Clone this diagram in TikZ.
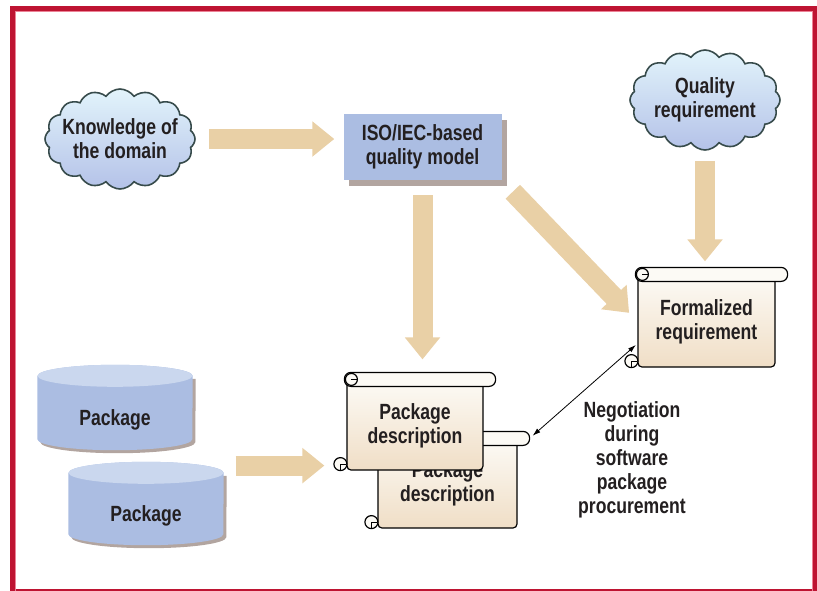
\documentclass[tikz,border=0pt]{standalone}
\usepackage{fontspec}
\setmainfont{Liberation Sans}[FakeStretch=0.8]
\usetikzlibrary{shapes.symbols, arrows.meta, calc, shadows}

\definecolor{framered}{RGB}{190,20,50}
\definecolor{framepink}{RGB}{236,130,150}
\definecolor{beige}{RGB}{233,208,166}
\definecolor{boxblue}{RGB}{171,189,226}
\definecolor{capblue}{RGB}{202,215,238}
\definecolor{shadowgrey}{RGB}{178,165,160}
\definecolor{cloudtop}{RGB}{226,244,251}
\definecolor{cloudbot}{RGB}{180,194,232}
\definecolor{cloudline}{RGB}{55,75,75}
\definecolor{papertop}{RGB}{252,250,245}
\definecolor{paperbot}{RGB}{240,222,198}
\definecolor{ink}{RGB}{35,31,32}

% roll and curls of a scroll node
\newcommand{\scrolldeco}[1]{%
  \draw[line width=1.2pt, fill=papertop, rounded corners=6.5pt] ($(#1.north west)+(-2,-8)$) rectangle ($(#1.north east)+(12,6)$);
  \draw[line width=1.2pt, fill=papertop] ($(#1.north west)+(5,-1)$) circle (6pt);
  \draw[line width=1.2pt] ($(#1.north west)+(5,-1)$) -- ++(6,0);
  \draw[line width=1.2pt, fill=papertop] ($(#1.south west)+(-6,-6.5)$) circle (6.5pt);
  \draw[line width=1.2pt] ($(#1.south west)+(-6,-6.5)$) -- ++(0,6.5);
  \draw[line width=1.2pt] ($(#1.south west)+(-6,-6.5)$) -- ++(6,0);
}
% body, shadow and lid of a package drum
\newcommand{\drum}[1]{%
  \fill[shadowgrey] ($(#1.north west)+(3,14)$) -- ($(#1.south west)+(3,-8)$) arc[start angle=180, end angle=360, x radius=77.5pt, y radius=11pt] -- ($(#1.north east)+(3,14)$) -- cycle;
  \fill[boxblue] ($(#1.north west)+(0,11)$) -- ($(#1.south west)+(0,-11)$) arc[start angle=180, end angle=360, x radius=77.5pt, y radius=11pt] -- ($(#1.north east)+(0,11)$) arc[start angle=0, end angle=180, x radius=77.5pt, y radius=11pt] -- cycle;
  \fill[capblue] ($(#1.north)+(0,11)$) ellipse [x radius=77.5pt, y radius=11pt];
}

\begin{document}
\begin{tikzpicture}[x=1pt, y=-1pt, font=\bfseries\fontsize{22}{24}\selectfont, text=ink,
  cloudy/.style={cloud, cloud puffs=16, cloud puff arc=110, aspect=1.5, draw=cloudline, line width=1.6pt, top color=cloudtop, bottom color=cloudbot, minimum width=150pt, minimum height=100pt, align=center, inner xsep=-12pt, inner ysep=-4pt},
  box/.style={fill=boxblue, minimum width=158pt, minimum height=66pt, align=center, drop shadow={shadow xshift=5pt, shadow yshift=-6pt, fill=shadowgrey, opacity=1}},
  drumbox/.style={minimum width=155pt, inner sep=0pt},
  paper/.style={draw, line width=1.2pt, top color=papertop, bottom color=paperbot, rounded corners=4pt, align=center, inner sep=0pt},
  fat/.style={line width=20pt, draw=beige, -{Triangle[width=34pt, length=22pt]}},
  thin/.style={line width=0.8pt, {Latex[length=8pt, width=5pt]}-{Latex[length=8pt, width=5pt]}}]
  \useasboundingbox (0,0) rectangle (817,590);
  % frame
  \draw[framered, line width=5pt] (12.5,8.5) rectangle (815.5,591);
  \draw[framepink, line width=1pt] (15.5,11.5) rectangle (812.5,591);
  % nodes
  \node[cloudy] (kd) at (120,139) {Knowledge of\\the domain};
  \node[cloudy] (qr) at (705,100) {Quality\\requirement};
  \node[box] (iso) at (422.5,147) {ISO/IEC-based\\quality model};
  \node[paper, minimum width=137pt, minimum height=91pt] (fr) at (706.5,321.5) {Formalized\\requirement};
  \scrolldeco{fr}
  \node[paper, minimum width=139pt, minimum height=88pt] (pd2) at (447.5,484) {Package\\description};
  \scrolldeco{pd2}
  \node[paper, minimum width=136pt, minimum height=89pt] (pd1) at (415,425.5) {Package\\description};
  \scrolldeco{pd1}
  \node[drumbox, minimum height=85pt] (pk1) at (115,407.5) {};
  \drum{pk1}
  \node (pk1l) at ($(pk1.center)+(0,12)$) {Package};
  \node[drumbox, minimum height=83pt] (pk2) at (146,503.5) {};
  \drum{pk2}
  \node (pk2l) at ($(pk2.center)+(0,12)$) {Package};
  \node[align=center] (neg) at (632,460) {Negotiation\\during\\software\\package\\procurement};
  \coordinate (pdin) at ($(pd1.south west)+(0,-5)$);
  \coordinate (pdout) at ($(pd2.north east)+(12,-1)$);
  \coordinate (frin) at ($(fr.south west)+(0,-24)$);
  % edges
  \draw[fat, shorten <=13pt, shorten >=9pt] (kd.east) -- (kd.east -| iso.west);
  \draw[fat, shorten <=15pt, shorten >=21pt] (iso.south) -- (iso.south |- pd1.north);
  \draw[fat, shorten <=16pt, shorten >=12pt] (iso.south east) -- (fr.west);
  \draw[fat, shorten <=10pt, shorten >=14pt] (qr.south) -- (qr.south |- fr.north);
  \draw[fat, shorten <=12pt, shorten >=22pt] (pk2.east |- pdin) -- (pdin);
  \draw[thin, shorten <=4pt, shorten >=2pt] (pdout) -- (frin);
\end{tikzpicture}
\end{document}
